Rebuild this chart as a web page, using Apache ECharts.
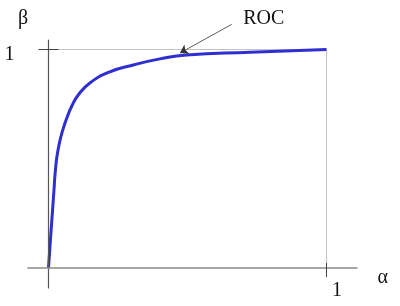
<!DOCTYPE html>
<html><head><meta charset="utf-8">
<script src="https://cdn.jsdelivr.net/npm/echarts@6/dist/echarts.min.js"></script>
<style>html,body{margin:0;padding:0;background:#fff}#c{width:400px;height:306px}</style>
</head><body><div id="c"></div>
<script>
// ROC curve samples
const alpha = [0, 0.0097, 0.0198, 0.0234, 0.0295, 0.0378, 0.0496, 0.0655, 0.0856, 0.107, 0.149, 0.221, 0.305, 0.401, 0.497, 0.725, 1];
const beta  = [0, 0.178, 0.357, 0.426, 0.502, 0.563, 0.624, 0.685, 0.746, 0.792, 0.847, 0.898, 0.929, 0.957, 0.975, 0.987, 1];
const xTicks = [1];
const yTicks = [1];
const xName = 'α';
const yName = 'β';
const annotationText = 'ROC';
const arrowFrom = [0.659, 1.115];
const arrowTo = [0.473, 0.984];
const guideLines = [[[0, 1], [1, 1]], [[1, 0], [1, 1]]];

const FONT = '"Liberation Serif", "Times New Roman", serif';
const chart = echarts.init(document.getElementById('c'), null, {renderer: 'canvas'});
const xMin = -0.0737, xMax = 1.1097, yMin = -0.0915, yMax = 1.0435;

chart.setOption({
  animation: false,
  backgroundColor: '#fff',
  grid: {left: 28, right: 43, top: 40, bottom: 18, containLabel: false, outerBoundsMode: 'none'},
  xAxis: [{
    type: 'value', min: xMin, max: xMax, z: 10,
    axisLine: {onZero: true, lineStyle: {color: '#8a8a8a', width: 1.5}},
    axisTick: {customValues: xTicks, length: 9, lineStyle: {color: '#444', width: 1}},
    axisLabel: {show: false},
    splitLine: {show: false}
  }, {
    type: 'value', min: xMin, max: xMax, z: 10, position: 'bottom',
    axisLine: {show: false, onZero: true, onZeroAxisIndex: 0},
    axisTick: {customValues: xTicks, inside: true, length: 5, lineStyle: {color: '#444', width: 1}},
    axisLabel: {show: false}, splitLine: {show: false}
  }],
  yAxis: [{
    type: 'value', min: yMin, max: yMax, z: 10,
    axisLine: {onZero: true, lineStyle: {color: '#555', width: 1.2}},
    axisTick: {customValues: yTicks, length: 10, lineStyle: {color: '#444', width: 1}},
    axisLabel: {show: false},
    splitLine: {show: false},
    name: yName, nameLocation: 'end', nameGap: 11,
    nameTextStyle: {fontFamily: FONT, fontSize: 20, color: '#111', padding: [0, 51, 0, 0]}
  }, {
    type: 'value', min: yMin, max: yMax, z: 10, position: 'left',
    axisLine: {show: false, onZero: true, onZeroAxisIndex: 0},
    axisTick: {customValues: yTicks, inside: true, length: 10, lineStyle: {color: '#444', width: 1}},
    axisLabel: {show: false}, splitLine: {show: false}
  }],
  series: [{
    type: 'line',
    data: alpha.map((a, i) => [a, beta[i]]),
    smooth: 0.5,
    showSymbol: false, symbol: 'none',
    lineStyle: {color: '#2e2ed2', width: 3},
    z: 5,
    markLine: {
      silent: true, symbol: 'none', animation: false,
      label: {show: false},
      lineStyle: {color: '#c4c4c4', width: 1, type: 'solid'},
      data: guideLines.map(([a, b]) => [{coord: a}, {coord: b}])
    }
  }, {
    type: 'lines',
    coordinateSystem: 'cartesian2d',
    clip: false, polyline: false, z: 6,
    symbol: ['none', 'arrow'], symbolSize: 8,
    lineStyle: {color: '#333', width: 0.8, opacity: 1, curveness: 0},
    data: [{coords: [arrowFrom, arrowTo]}]
  }]
});

// tick labels and the x-axis name, placed from the axes' own scale
const toPx = v => chart.convertToPixel({xAxisIndex: 0, yAxisIndex: 0}, v);
const txt = (text, x, y, align) => ({
  type: 'text', x: x, y: y, z: 20,
  style: {text: text, font: '20px ' + FONT, fill: '#111', align: align, verticalAlign: 'middle'}
});
const g = [];
xTicks.forEach(v => { const p = toPx([v, 0]); g.push(txt(String(v), p[0] + 10.5, p[1] + 23, 'center')); });
yTicks.forEach(v => { const p = toPx([0, v]); g.push(txt(String(v), p[0] - 34, p[1] + 5.5, 'right')); });
const xEnd = toPx([xMax, 0]);
g.push(txt(xName, xEnd[0] + 20.5, xEnd[1] + 10, 'left'));
const a0 = toPx(arrowFrom);
g.push(txt(annotationText, a0[0] + 11.5, a0[1] - 6, 'left'));
chart.setOption({graphic: g});
</script>
</body></html>
